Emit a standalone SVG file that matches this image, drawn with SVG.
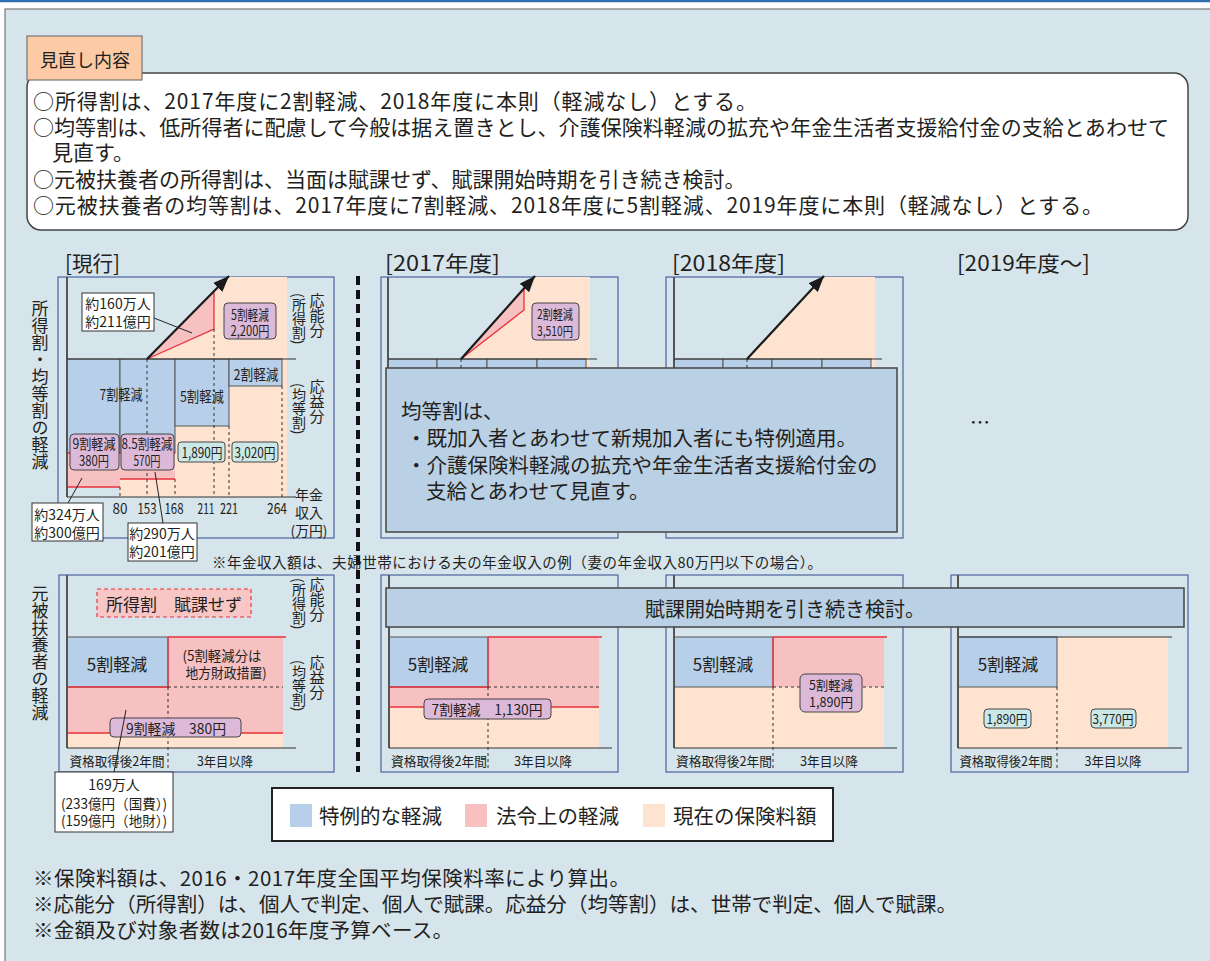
<svg xmlns="http://www.w3.org/2000/svg" width="1210" height="961" viewBox="0 0 1210 961">
<style>
.t{font-family:"Noto Sans CJK JP","Noto Sans",sans-serif;fill:#231f20;}
.c{text-anchor:middle;dominant-baseline:central;}
.l{dominant-baseline:central;}
.v{writing-mode:vertical-rl;}
.frame{fill:none;stroke:#4c64a0;stroke-width:1.2;}
.blue{fill:#b8cfe9;stroke:#555;stroke-width:1;}
.pink{fill:#f7c0c1;}
.peach{fill:#fee4d0;}
.purple{fill:#ddb9d9;stroke:#444;stroke-width:1;}
.cyan{fill:#cbe8e6;stroke:#444;stroke-width:1;}
.white{fill:#fff;stroke:#333;stroke-width:1;}
.axis{stroke:#555;stroke-width:2;fill:none;}
.ln{stroke:#333;stroke-width:1.2;fill:none;}
.red{stroke:#e8323c;stroke-width:1.3;fill:none;}
.dash{stroke:#333;stroke-width:1;stroke-dasharray:3 3;fill:none;}
.lead{stroke:#222;stroke-width:1;fill:none;}
.arr{stroke:#1a1a1a;stroke-width:2.2;fill:none;marker-end:url(#ah);}
</style>
<defs>
<marker id="ah" viewBox="0 0 10 8" refX="10" refY="4" markerWidth="16" markerHeight="13" markerUnits="userSpaceOnUse" orient="auto">
<path d="M0,0 L10,4 L0,8 z" fill="#1a1a1a"/>
</marker>
</defs>
<rect x="0" y="0" width="1210" height="961" fill="#fff"/>
<rect x="5" y="9" width="1220" height="970" fill="#d6e4ec" stroke="#777" stroke-width="1.2"/>
<line x1="0" y1="1" x2="1210" y2="1" stroke="#2e6fb0" stroke-width="2.5"/>

<g id="review-box">
<rect x="27" y="73" width="1161" height="157" rx="14" fill="#fff" stroke="#444" stroke-width="1.5"/>
<rect x="27" y="36" width="115" height="44" fill="#fccba6" stroke="#777" stroke-width="1.2"/>
<text class="t l" x="40" y="59" font-size="18">見直し内容</text>
<text class="t l" x="33" y="100" font-size="21" textLength="724" lengthAdjust="spacing">○所得割は、2017年度に2割軽減、2018年度に本則（軽減なし）とする。</text>
<text class="t l" x="33" y="126" font-size="21" textLength="1136" lengthAdjust="spacing">○均等割は、低所得者に配慮して今般は据え置きとし、介護保険料軽減の拡充や年金生活者支援給付金の支給とあわせて</text>
<text class="t l" x="52" y="151" font-size="21">見直す。</text>
<text class="t l" x="33" y="178" font-size="21">○元被扶養者の所得割は、当面は賦課せず、賦課開始時期を引き続き検討。</text>
<text class="t l" x="33" y="204" font-size="21" textLength="1070" lengthAdjust="spacing">○元被扶養者の均等割は、2017年度に7割軽減、2018年度に5割軽減、2019年度に本則（軽減なし）とする。</text>
</g>

<g id="titles">
<text class="t l" x="65" y="262" font-size="21" textLength="55" lengthAdjust="spacingAndGlyphs">[現行]</text>
<text class="t l" x="385" y="262" font-size="21" textLength="115" lengthAdjust="spacingAndGlyphs">[2017年度]</text>
<text class="t l" x="672" y="262" font-size="21" textLength="113" lengthAdjust="spacingAndGlyphs">[2018年度]</text>
<text class="t l" x="957" y="262" font-size="21" textLength="133" lengthAdjust="spacingAndGlyphs">[2019年度～]</text>
<text class="t v" x="40" y="300" font-size="17">所得割・均等割の軽減</text>
<text class="t v" x="40" y="585" font-size="17">元被扶養者の軽減</text>
</g>

<line id="separator" x1="358" y1="276" x2="358" y2="772" stroke="#111" stroke-width="4" stroke-dasharray="9 5"/>

<g id="genko-top">
<rect x="58" y="277" width="276" height="261" class="frame"/>
<polygon points="147,359 228,277 287,277 287,359" class="peach"/>
<rect x="120" y="359" width="167" height="138" class="peach"/>
<polygon points="147,359 214,291 214,329" class="pink"/>
<polyline points="147,359 214,329 214,291" class="red"/>
<rect x="67" y="359" width="53" height="94" class="blue"/>
<rect x="120" y="359" width="55" height="94" class="blue"/>
<rect x="175" y="359" width="54" height="67" class="blue"/>
<rect x="229" y="359" width="53" height="27" class="blue"/>
<rect x="67" y="453" width="53" height="34" class="pink"/>
<rect x="120" y="453" width="55" height="26" class="pink"/>
<line x1="67" y1="453" x2="175" y2="453" class="red"/>
<line x1="67" y1="487" x2="120" y2="487" class="red"/>
<line x1="120" y1="479" x2="175" y2="479" class="red"/>
<line x1="147" y1="359" x2="147" y2="497" class="dash"/>
<line x1="175" y1="479" x2="175" y2="497" class="dash"/>
<line x1="214" y1="329" x2="214" y2="497" class="dash"/>
<line x1="229" y1="426" x2="229" y2="497" class="dash"/>
<line x1="282" y1="386" x2="282" y2="497" class="dash"/>
<line x1="120" y1="487" x2="120" y2="497" class="dash"/>
<line x1="67" y1="277" x2="67" y2="497" class="axis"/>
<line x1="67" y1="359" x2="296" y2="359" class="ln"/>
<line x1="67" y1="497" x2="296" y2="497" class="ln"/>
<text class="t c" x="121" y="393" font-size="15" textLength="43" lengthAdjust="spacingAndGlyphs">7割軽減</text>
<text class="t c" x="202" y="395" font-size="15" textLength="44" lengthAdjust="spacingAndGlyphs">5割軽減</text>
<text class="t c" x="256" y="373" font-size="15" textLength="45" lengthAdjust="spacingAndGlyphs">2割軽減</text>
<rect x="70" y="434" width="49" height="36" rx="4" class="purple"/>
<text class="t c" font-size="14"><tspan x="94" y="443" textLength="43" lengthAdjust="spacingAndGlyphs">9割軽減</tspan><tspan x="94" y="460" textLength="30" lengthAdjust="spacingAndGlyphs">380円</tspan></text>
<rect x="121" y="434" width="53" height="36" rx="4" class="purple"/>
<text class="t c" font-size="14"><tspan x="147" y="443" textLength="51" lengthAdjust="spacingAndGlyphs">8.5割軽減</tspan><tspan x="147" y="460" textLength="27" lengthAdjust="spacingAndGlyphs">570円</tspan></text>
<rect x="178" y="442" width="47" height="20" rx="3" class="cyan"/>
<text class="t c" x="202" y="452" font-size="14" textLength="41" lengthAdjust="spacingAndGlyphs">1,890円</text>
<rect x="232" y="442" width="46" height="20" rx="3" class="cyan"/>
<text class="t c" x="255" y="452" font-size="14" textLength="41" lengthAdjust="spacingAndGlyphs">3,020円</text>
<rect x="224" y="303" width="52" height="36" rx="4" class="purple"/>
<text class="t c" font-size="14"><tspan x="250" y="314" textLength="38" lengthAdjust="spacingAndGlyphs">5割軽減</tspan><tspan x="250" y="330" textLength="39" lengthAdjust="spacingAndGlyphs">2,200円</tspan></text>
<text class="t c" x="120" y="507" font-size="15" textLength="15" lengthAdjust="spacingAndGlyphs">80</text>
<text class="t c" x="147" y="507" font-size="15" textLength="19" lengthAdjust="spacingAndGlyphs">153</text>
<text class="t c" x="174" y="507" font-size="15" textLength="19" lengthAdjust="spacingAndGlyphs">168</text>
<text class="t c" x="206" y="507" font-size="15" textLength="17" lengthAdjust="spacingAndGlyphs">211</text>
<text class="t c" x="229" y="507" font-size="15" textLength="18" lengthAdjust="spacingAndGlyphs">221</text>
<text class="t c" x="277" y="507" font-size="15" textLength="20" lengthAdjust="spacingAndGlyphs">264</text>
<text class="t c" font-size="14"><tspan x="309" y="494">年金</tspan><tspan x="309" y="512">収入</tspan><tspan x="309" y="530" textLength="37" lengthAdjust="spacingAndGlyphs">(万円)</tspan></text>
<text class="t v" x="317" y="293" font-size="15">応能分</text>
<text class="t v" x="299" y="293" font-size="14">(所得割)</text>
<text class="t v" x="317" y="379" font-size="15">応益分</text>
<text class="t v" x="299" y="383" font-size="14">(均等割)</text>
</g>

<g id="callout-160">
<rect x="82" y="293" width="72" height="38" class="white"/>
<text class="t c" font-size="14"><tspan x="118" y="303">約160万人</tspan><tspan x="118" y="321">約211億円</tspan></text>
</g>
<g id="callout-324">
<rect x="32" y="503" width="71" height="38" class="white"/>
<text class="t c" font-size="14"><tspan x="67" y="514">約324万人</tspan><tspan x="67" y="532">約300億円</tspan></text>
</g>
<g id="callout-290">
<rect x="128" y="523" width="69" height="38" class="white"/>
<text class="t c" font-size="14"><tspan x="162" y="533">約290万人</tspan><tspan x="162" y="551">約201億円</tspan></text>
</g>

<text id="note-income" class="t l" x="212" y="561" font-size="14.5" textLength="610" lengthAdjust="spacing">※年金収入額は、夫婦世帯における夫の年金収入の例（妻の年金収入80万円以下の場合）。</text>

<g id="y2017-top">
<rect x="381" y="277" width="237" height="261" class="frame"/>
<polygon points="461,359 535,277 590,277 590,372 461,372" class="peach"/>
<polygon points="461,359 524,289 524,310" class="pink"/>
<polyline points="461,359 524,310 524,289" class="red"/>
<rect x="388" y="359" width="49" height="14" class="blue"/>
<rect x="437" y="359" width="50" height="14" class="blue"/>
<rect x="487" y="359" width="50" height="14" class="blue"/>
<rect x="537" y="359" width="49" height="14" class="blue"/>
<line x1="461" y1="359" x2="461" y2="373" class="dash"/>
<line x1="388" y1="277" x2="388" y2="373" class="axis"/>
<line x1="388" y1="359" x2="597" y2="359" class="ln"/>
<rect x="532" y="303" width="47" height="37" rx="4" class="purple"/>
<text class="t c" font-size="13"><tspan x="555" y="313" textLength="36" lengthAdjust="spacingAndGlyphs">2割軽減</tspan><tspan x="555" y="330" textLength="36" lengthAdjust="spacingAndGlyphs">3,510円</tspan></text>
</g>

<g id="y2018-top">
<rect x="666" y="277" width="237" height="261" class="frame"/>
<polygon points="747,359 824,277 875,277 875,372 747,372" class="peach"/>
<rect x="674" y="359" width="49" height="14" class="blue"/>
<rect x="723" y="359" width="49" height="14" class="blue"/>
<rect x="772" y="359" width="50" height="14" class="blue"/>
<rect x="822" y="359" width="49" height="14" class="blue"/>
<line x1="747" y1="359" x2="747" y2="373" class="dash"/>
<line x1="674" y1="277" x2="674" y2="373" class="axis"/>
<line x1="674" y1="359" x2="882" y2="359" class="ln"/>
</g>

<g id="overlay-kinto">
<rect x="386" y="368" width="511" height="164" fill="#bad0e4" stroke="#444" stroke-width="1.5"/>
<text class="t l" x="401" y="410" font-size="20.5">均等割は、</text>
<text class="t l" x="406" y="437" font-size="20.5">・既加入者とあわせて新規加入者にも特例適用。</text>
<text class="t l" x="406" y="464" font-size="20.5">・介護保険料軽減の拡充や年金生活者支援給付金の</text>
<text class="t l" x="426" y="490" font-size="20.5">支給とあわせて見直す。</text>
</g>

<text id="ellipsis" class="t c" x="980" y="421" font-size="20">…</text>

<g id="genko-bottom">
<rect x="59" y="575" width="275" height="197" class="frame"/>
<rect x="67" y="733" width="216" height="15" class="peach"/>
<rect x="67" y="687" width="216" height="46" class="pink"/>
<rect x="168" y="637" width="115" height="50" class="pink"/>
<rect x="67" y="637" width="101" height="50" class="blue"/>
<line x1="168" y1="637" x2="286" y2="637" class="red"/>
<line x1="168" y1="637" x2="168" y2="687" class="red"/>
<line x1="67" y1="687" x2="168" y2="687" class="red"/>
<line x1="67" y1="733" x2="283" y2="733" class="red"/>
<line x1="168" y1="687" x2="283" y2="687" class="dash"/>
<line x1="168" y1="687" x2="168" y2="769" class="dash"/>
<line x1="67" y1="575" x2="67" y2="748" class="axis"/>
<line x1="67" y1="748" x2="296" y2="748" class="ln"/>
<rect x="97" y="589" width="154" height="28" fill="#f9c6c6" stroke="#e8323c" stroke-width="1.2" stroke-dasharray="4 3"/>
<text class="t c" x="174" y="603" font-size="17">所得割　賦課せず</text>
<text class="t c" x="117" y="663" font-size="17">5割軽減</text>
<text class="t c" font-size="14"><tspan x="222" y="655" textLength="79" lengthAdjust="spacingAndGlyphs">(5割軽減分は</tspan><tspan x="226" y="672" textLength="81" lengthAdjust="spacingAndGlyphs">地方財政措置)</tspan></text>
<rect x="110" y="718" width="131" height="19" rx="4" class="purple"/>
<text class="t c" x="176" y="728" font-size="14" textLength="100" lengthAdjust="spacingAndGlyphs">9割軽減　380円</text>
<text class="t c" x="117" y="760" font-size="13" textLength="95" lengthAdjust="spacingAndGlyphs">資格取得後2年間</text>
<text class="t c" x="225" y="760" font-size="13" textLength="56" lengthAdjust="spacingAndGlyphs">3年目以降</text>
<text class="t v" x="317" y="577" font-size="15">応能分</text>
<text class="t v" x="299" y="578" font-size="14">(所得割)</text>
<text class="t v" x="317" y="655" font-size="15">応益分</text>
<text class="t v" x="299" y="660" font-size="14">(均等割)</text>
</g>

<g id="callout-169">
<rect x="55" y="772" width="118" height="60" class="white"/>
<text class="t c" font-size="14"><tspan x="114" y="784">169万人</tspan><tspan x="114" y="803" textLength="106" lengthAdjust="spacingAndGlyphs">(233億円（国費）)</tspan><tspan x="114" y="820" textLength="106" lengthAdjust="spacingAndGlyphs">(159億円（地財）)</tspan></text>
</g>

<g id="y2017-bottom">
<rect x="381" y="575" width="237" height="197" class="frame"/>
<rect x="389" y="707" width="210" height="41" class="peach"/>
<rect x="389" y="687" width="210" height="20" class="pink"/>
<rect x="488" y="637" width="111" height="50" class="pink"/>
<rect x="389" y="637" width="99" height="50" class="blue"/>
<line x1="488" y1="637" x2="602" y2="637" class="red"/>
<line x1="488" y1="637" x2="488" y2="687" class="red"/>
<line x1="389" y1="687" x2="488" y2="687" class="red"/>
<line x1="389" y1="707" x2="599" y2="707" class="red"/>
<line x1="488" y1="687" x2="599" y2="687" class="dash"/>
<line x1="488" y1="687" x2="488" y2="769" class="dash"/>
<line x1="389" y1="575" x2="389" y2="748" class="axis"/>
<line x1="389" y1="748" x2="612" y2="748" class="ln"/>
<text class="t c" x="438" y="663" font-size="17">5割軽減</text>
<rect x="424" y="699" width="127" height="20" rx="4" class="purple"/>
<text class="t c" x="487" y="709" font-size="14" textLength="111" lengthAdjust="spacingAndGlyphs">7割軽減　1,130円</text>
<text class="t c" x="439" y="760" font-size="13" textLength="96" lengthAdjust="spacingAndGlyphs">資格取得後2年間</text>
<text class="t c" x="543" y="760" font-size="13" textLength="58" lengthAdjust="spacingAndGlyphs">3年目以降</text>
</g>

<g id="y2018-bottom">
<rect x="666" y="575" width="237" height="197" class="frame"/>
<rect x="674" y="687" width="210" height="61" class="peach"/>
<rect x="773" y="637" width="111" height="50" class="pink"/>
<rect x="674" y="637" width="99" height="50" class="blue"/>
<line x1="773" y1="637" x2="887" y2="637" class="red"/>
<line x1="773" y1="637" x2="773" y2="687" class="red"/>
<line x1="773" y1="687" x2="884" y2="687" class="dash"/>
<line x1="773" y1="687" x2="773" y2="769" class="dash"/>
<line x1="674" y1="575" x2="674" y2="748" class="axis"/>
<line x1="674" y1="748" x2="897" y2="748" class="ln"/>
<text class="t c" x="723" y="663" font-size="17">5割軽減</text>
<rect x="800" y="674" width="62" height="38" rx="5" class="purple"/>
<text class="t c" font-size="13"><tspan x="831" y="684" textLength="44" lengthAdjust="spacingAndGlyphs">5割軽減</tspan><tspan x="831" y="701" textLength="44" lengthAdjust="spacingAndGlyphs">1,890円</tspan></text>
<text class="t c" x="724" y="760" font-size="13" textLength="96" lengthAdjust="spacingAndGlyphs">資格取得後2年間</text>
<text class="t c" x="829" y="760" font-size="13" textLength="58" lengthAdjust="spacingAndGlyphs">3年目以降</text>
</g>

<g id="y2019-bottom">
<rect x="951" y="575" width="237" height="197" class="frame"/>
<rect x="958" y="637" width="210" height="111" class="peach"/>
<rect x="958" y="637" width="99" height="50" class="blue"/>
<line x1="958" y1="637" x2="1172" y2="637" class="ln"/>
<line x1="1057" y1="687" x2="1057" y2="769" class="dash"/>
<line x1="958" y1="575" x2="958" y2="748" class="axis"/>
<line x1="958" y1="748" x2="1182" y2="748" class="ln"/>
<text class="t c" x="1008" y="663" font-size="17">5割軽減</text>
<rect x="984" y="709" width="47" height="19" rx="4" class="cyan"/>
<text class="t c" x="1007" y="718" font-size="13" textLength="41" lengthAdjust="spacingAndGlyphs">1,890円</text>
<rect x="1091" y="709" width="45" height="19" rx="4" class="cyan"/>
<text class="t c" x="1113" y="718" font-size="13" textLength="41" lengthAdjust="spacingAndGlyphs">3,770円</text>
<text class="t c" x="1006" y="760" font-size="13" textLength="93" lengthAdjust="spacingAndGlyphs">資格取得後2年間</text>
<text class="t c" x="1113" y="760" font-size="13" textLength="57" lengthAdjust="spacingAndGlyphs">3年目以降</text>
</g>

<g id="overlay-fuka">
<rect x="386" y="588" width="798" height="39" fill="#bad0e4" stroke="#444" stroke-width="1.5"/>
<text class="t c" x="785" y="608" font-size="20">賦課開始時期を引き続き検討。</text>
</g>

<g id="connectors">
<line x1="147" y1="359" x2="229" y2="276" class="arr"/>
<line x1="461" y1="359" x2="535" y2="276" class="arr"/>
<line x1="747" y1="359" x2="824" y2="276" class="arr"/>
<line x1="154" y1="318" x2="192" y2="333" class="lead"/>
<line x1="82" y1="478" x2="68" y2="503" class="lead"/>
<line x1="155" y1="472" x2="163" y2="523" class="lead"/>
<line x1="126" y1="710" x2="114" y2="772" class="lead"/>
</g>

<g id="legend">
<rect x="272" y="788" width="561" height="53" fill="#fff" stroke="#222" stroke-width="2"/>
<rect x="290" y="804" width="22" height="23" fill="#b8cfe9"/>
<text class="t l" x="319" y="815" font-size="20.5">特例的な軽減</text>
<rect x="465" y="804" width="22" height="23" fill="#f7c0c1"/>
<text class="t l" x="496" y="815" font-size="20.5">法令上の軽減</text>
<rect x="643" y="804" width="22" height="23" fill="#fee4d0"/>
<text class="t l" x="673" y="815" font-size="20.5">現在の保険料額</text>
</g>

<g id="footnotes">
<text class="t l" x="33" y="877" font-size="20.5" textLength="597" lengthAdjust="spacing">※保険料額は、2016・2017年度全国平均保険料率により算出。</text>
<text class="t l" x="33" y="903" font-size="20.5" textLength="924" lengthAdjust="spacing">※応能分（所得割）は、個人で判定、個人で賦課。応益分（均等割）は、世帯で判定、個人で賦課。</text>
<text class="t l" x="33" y="929" font-size="20.5" textLength="420" lengthAdjust="spacing">※金額及び対象者数は2016年度予算ベース。</text>
</g>
</svg>
